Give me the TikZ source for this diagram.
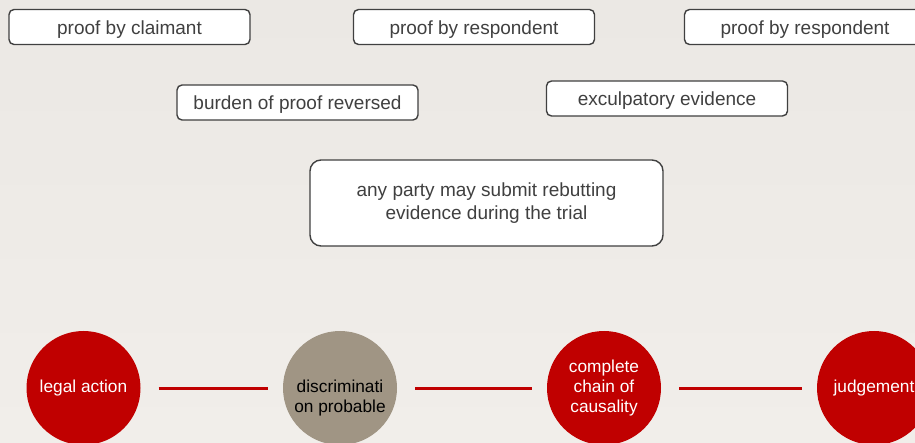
\documentclass[tikz,border=0pt]{standalone}
\usepackage{fontspec}
\setmainfont{Liberation Sans}
\definecolor{bgtop}{HTML}{EBE8E4}
\definecolor{bgbot}{HTML}{F1EEEA}
\definecolor{boxline}{HTML}{404040}
\definecolor{boxtext}{HTML}{404040}
\definecolor{darkred}{HTML}{C00000}
\definecolor{taupe}{HTML}{A09584}

\begin{document}
\begin{tikzpicture}[x=1pt,y=-1pt]
	\tikzstyle{box}=[draw=boxline,line width=1.4pt,fill=white,rounded corners=5pt,
		minimum width=241pt,minimum height=35pt,inner sep=0pt,text=boxtext,
		text height=15pt,text depth=0pt,font=\fontsize{19}{23}\selectfont]
	\tikzstyle{bigbox}=[box,text height=,text depth=,rounded corners=11pt,
		minimum width=353pt,minimum height=86pt,align=center]
	\tikzstyle{dot}=[circle,fill=darkred,minimum size=114pt,inner sep=0pt,text=white,
		align=center,font=\fontsize{17.3}{20}\selectfont]
	\tikzstyle{link}=[draw=darkred,line width=3pt,shorten <=18pt,shorten >=15pt]
	\useasboundingbox (0,0) rectangle (915,443);
	\clip (0,0) rectangle (915,443);
	\shade[top color=bgtop,bottom color=bgbot] (0,0) rectangle (915,443);
	% top row
	\node[box] (claimant) at (129.5,27) {proof by claimant};
	\node[box] (resp) at (474,27) {proof by respondent};
	\node[box] (respb) at (805,27) {proof by respondent};
	% middle
	\node[box] (reversed) at (297.5,102.5) {burden of proof reversed};
	\node[box] (exculp) at (667,98.5) {exculpatory evidence};
	\node[bigbox] (rebut) at (486.5,203) {any party may submit rebutting\\evidence during the trial};
	% circles
	\node[dot] (action) at (83.5,388) {legal action};
	\node[dot,fill=taupe] (discr) at (340,388) {};
	\node[dot,fill=none,text=black,minimum size=0pt] (discrtext) at (340,398.5) {discriminati\\on probable};
	\node[dot] (chain) at (604,388) {complete\\chain of\\causality};
	\node[dot] (judge) at (874,388) {judgement};
	\draw[link] (action.east) -- (discr.west);
	\draw[link] (discr.east) -- (chain.west);
	\draw[link] (chain.east) -- (judge.west);
\end{tikzpicture}
\end{document}
